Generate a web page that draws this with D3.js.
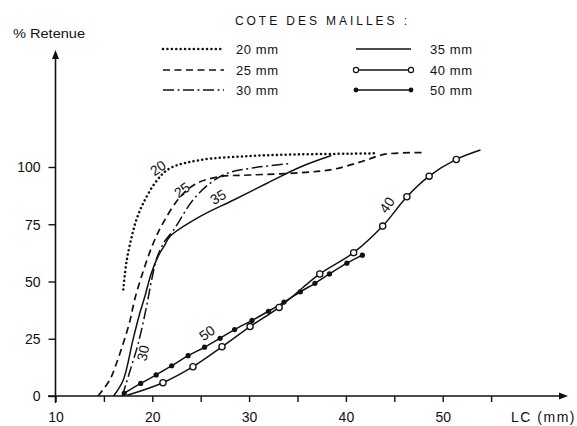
<!DOCTYPE html>
<html><head><meta charset="utf-8">
<script src="https://cdn.jsdelivr.net/npm/d3@7"></script>
<style>
body{margin:0;background:#fff}
svg{display:block}
text{font-family:"Liberation Sans",Arial,sans-serif;fill:#111}
</style>
</head><body>
<svg id="c" width="577" height="426"></svg>
<script>
// ---- data ----
const xTicks = [10,15,20,25,30,35,40,45,50,55];
const xLabels = [10,20,30,40,50];
const yTicks = [0,25,50,75,100];

const lc20  = [17.0,17.35,17.9,18.4,19.1,20.45,21.8,24.9,30.1,35.0,40.4,43.2];
const ret20 = [46.5,59,70,77.5,84.5,94,99.4,103,104.8,105.5,105.8,106];

const lc25  = [14.4,15.6,16.3,17.0,17.7,18.2,19.1,20.1,21.1,22.9,24.6,27.0,30.1,35.3,38.7,42.1,43.9,48.0];
const ret25 = [0,7,14.3,23,33,42.5,55,66.7,75.5,87,92.9,95.8,96.5,97.5,99,103,105.5,106.3];

const lc30  = [16.9,17.7,18.55,19.4,19.9,20.45,21.2,22.2,24.2,26.0,27.7,30.1,34.2];
const ret30 = [0,11,23,39,50,60,67,72.5,85.6,93,97.2,99.4,101.5];

const lc35  = [16.0,17.0,18.0,18.7,19.2,19.9,20.6,21.3,21.8,24.9,28.4,31.8,35.3,38.5];
const ret35 = [0,7,24.5,36,43,53.6,61,66,69.6,78.3,85.6,92.8,100,105];

// 40 mm: first and last points are line ends, the rest carry open circles
const lc40  = [17.4,21.1,24.2,27.2,30.1,33.1,37.3,40.8,43.8,46.3,48.6,51.4,53.9];
const ret40 = [0.3,5.8,12.8,21.5,30.3,38.7,53.3,62.6,74.2,87,96,103.3,107.4];

// 50 mm: every point carries a filled dot
const lc50  = [17.1,18.8,20.4,22.0,23.7,25.4,27.0,28.5,30.3,32.0,33.6,35.3,36.8,38.3,40.1,41.7];
const ret50 = [1.2,5.5,9.2,13.2,17.6,21.3,25.2,29,33,37,41,45.5,49.2,53.3,58,61.5];

const legendLabels = ["20 mm","25 mm","30 mm","35 mm","40 mm","50 mm"];

// ---- drawing ----
const svg = d3.select("#c");
const x = d3.scaleLinear().domain([10,55]).range([55.5, 491.1]);
const y = d3.scaleLinear().domain([0,100]).range([396,167]);

const styles = {
  "20": {dash:"0.1 4.3", w:2.5, cap:"round"},
  "25": {dash:"7 4.5", w:1.7, cap:"butt"},
  "30": {dash:"11 3.5 2 3.5", w:1.5, cap:"butt"},
  "35": {dash:null, w:1.5, cap:"butt"},
  "40": {dash:null, w:1.5, cap:"butt"},
  "50": {dash:null, w:1.5, cap:"butt"}
};

const line = d3.line().x(d=>x(d[0])).y(d=>y(d[1])).curve(d3.curveCatmullRom.alpha(0.5));
const zip = (a,b)=>a.map((v,i)=>[v,b[i]]);

function drawSeries(key, pts){
  const s = styles[key];
  svg.append("path").attr("d", line(pts)).attr("fill","none")
    .attr("stroke","#111").attr("stroke-width", s.w)
    .attr("stroke-linecap", s.cap)
    .attr("stroke-dasharray", s.dash);
}
drawSeries("20", zip(lc20,ret20));
drawSeries("25", zip(lc25,ret25));
drawSeries("30", zip(lc30,ret30));
drawSeries("35", zip(lc35,ret35));
drawSeries("50", zip(lc50,ret50));
drawSeries("40", zip(lc40,ret40));

svg.append("g").selectAll("circle").data(zip(lc50,ret50)).join("circle")
  .attr("cx",d=>x(d[0])).attr("cy",d=>y(d[1])).attr("r",2.6).attr("fill","#111");
svg.append("g").selectAll("circle").data(zip(lc40,ret40).slice(1,-1)).join("circle")
  .attr("cx",d=>x(d[0])).attr("cy",d=>y(d[1])).attr("r",3.1)
  .attr("fill","#fff").attr("stroke","#111").attr("stroke-width",1.3);

// axes
const gx = svg.append("g").attr("transform","translate(0,396)")
  .call(d3.axisBottom(x).tickValues(xTicks).tickSize(6).tickSizeOuter(0)
    .tickFormat(d=>xLabels.includes(d)?String(d):""));
gx.select(".domain").remove();
gx.selectAll(".tick line").attr("stroke","#111").attr("stroke-width",1.4);
gx.selectAll(".tick text").attr("y",21).attr("dy","0.35em")
  .style("font-size","14px").attr("fill","#111");

const gy = svg.append("g").attr("transform","translate(55.5,0)")
  .call(d3.axisLeft(y).tickValues(yTicks).tickSize(7).tickSizeOuter(0));
gy.select(".domain").remove();
gy.selectAll(".tick line").attr("stroke","#111").attr("stroke-width",1.4);
gy.selectAll(".tick text").attr("x",-15).attr("dy","0.35em")
  .style("font-size","14px").attr("fill","#111");

// axis lines with arrows
svg.append("line").attr("x1",48).attr("x2",562).attr("y1",396).attr("y2",396)
  .attr("stroke","#111").attr("stroke-width",1.6);
svg.append("path").attr("d","M568,396 L559,392.5 L559,399.5 Z").attr("fill","#111");
svg.append("line").attr("x1",55.5).attr("x2",55.5).attr("y1",403).attr("y2",57)
  .attr("stroke","#111").attr("stroke-width",1.6);
svg.append("path").attr("d","M55.5,50 L52,59 L59,59 Z").attr("fill","#111");

svg.append("text").attr("x",13).attr("y",33).attr("dy","0.35em")
  .attr("textLength",72).attr("lengthAdjust","spacingAndGlyphs")
  .style("font-size","13.5px").text("% Retenue");
svg.append("text").attr("x",576).attr("y",417).attr("dy","0.35em")
  .attr("text-anchor","end").style("font-size","14px").style("letter-spacing","1.5px")
  .text("LC (mm)");

// curve labels
const curveLabels = [
  {t:"20", x:158, y:168, r:-35},
  {t:"25", x:182, y:190, r:-35},
  {t:"35", x:218, y:197, r:-30},
  {t:"30", x:143, y:353, r:-78},
  {t:"40", x:387, y:205, r:-55},
  {t:"50", x:207, y:333, r:-35}
];
svg.append("g").selectAll("text").data(curveLabels).join("text")
  .attr("transform",d=>`translate(${d.x},${d.y}) rotate(${d.r})`)
  .attr("text-anchor","middle").attr("dy","0.35em")
  .style("font-size","14px").text(d=>d.t);

// legend
svg.append("text").attr("x",235).attr("y",21).attr("dy","0.35em")
  .attr("textLength",172).attr("lengthAdjust","spacing")
  .style("font-size","12px").text("COTE DES MAILLES :");
const legKeys = ["20","25","30","35","40","50"];
const rowsY = [49,70,90];
legKeys.forEach((k,i)=>{
  const col = Math.floor(i/3), row = i%3;
  const x1 = col===0?163:356, x2 = col===0?224:411;
  const yy = rowsY[row];
  const s = styles[k];
  svg.append("line").attr("x1",x1).attr("x2",x2).attr("y1",yy).attr("y2",yy)
    .attr("stroke","#111").attr("stroke-width",s.w).attr("stroke-linecap",s.cap)
    .attr("stroke-dasharray",s.dash);
  if(k==="40"){
    [x1,x2].forEach(cx=>svg.append("circle").attr("cx",cx).attr("cy",yy).attr("r",2.6)
      .attr("fill","#fff").attr("stroke","#111").attr("stroke-width",1.2));
  }
  if(k==="50"){
    [x1,x2].forEach(cx=>svg.append("circle").attr("cx",cx).attr("cy",yy).attr("r",2.4).attr("fill","#111"));
  }
  svg.append("text").attr("x",col===0?236:430).attr("y",yy).attr("dy","0.35em")
    .style("font-size","13px").style("letter-spacing","0.6px").text(legendLabels[i]);
});
</script>
</body></html>
